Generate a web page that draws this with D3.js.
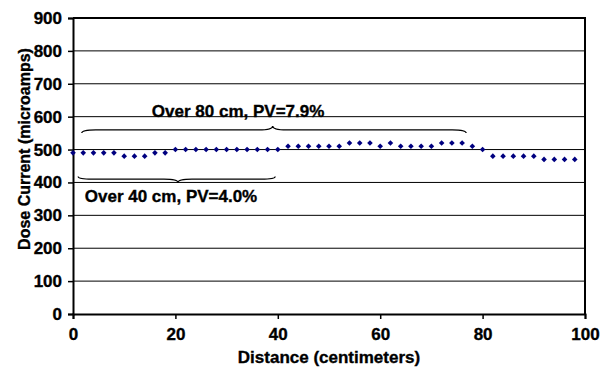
<!DOCTYPE html>
<html>
<head>
<meta charset="utf-8">
<script src="https://cdn.jsdelivr.net/npm/d3@7"></script>
<style>
  body { margin: 0; background: #fff; }
  text { font-family: "Liberation Sans", Arial, sans-serif; font-weight: bold; fill: #000; stroke: #000; stroke-width: 0.35px; }
</style>
</head>
<body>
<div id="dose-chart-container"></div>
<script>
/* chart values */
var distance = [0, 2, 4, 6, 8, 10, 12, 14, 16, 18,
                20, 22, 24, 26, 28, 30, 32, 34, 36, 38,
                40, 42, 44, 46, 48, 50, 52, 54, 56, 58,
                60, 62, 64, 66, 68, 70, 72, 74, 76, 78,
                80, 82, 84, 86, 88, 90, 92, 94, 96, 98]

var doseCurrent = [490, 490, 490, 490, 490, 480, 480, 480, 490, 490,
                   500, 500, 500, 500, 500, 500, 500, 500, 500, 500,
                   500, 510, 510, 510, 510, 510, 510, 520, 520, 520,
                   510, 520, 510, 510, 510, 510, 520, 520, 520, 510,
                   500, 480, 480, 480, 480, 480, 470, 470, 470, 470]

var xTicks = [0, 20, 40, 60, 80, 100]
var yTicks = [0, 100, 200, 300, 400, 500, 600, 700, 800, 900]

/* brace annotations, in chart units: from, to, tip, flat level, tip level, end level */
var braceLabels = ["Over 80 cm, PV=7.9%", "Over 40 cm, PV=4.0%"]
var braceFrom = [1.7, 1]
var braceTo = [76.8, 39.5]
var braceTip = [39, 20.5]
var braceFlat = [560, 410]
var bracePeak = [572, 400]
var braceEnd = [550, 418]
var labelX = [15.4, 2.3]
var labelY = [600, 340]

/* layout */
var layout = {
  width: 608,
  height: 371,
  left: 73,
  right: 585,
  top: 18,
  bottom: 314
}

var x = d3.scaleLinear().domain([0, 100]).range([layout.left, layout.right])
var y = d3.scaleLinear().domain([0, 900]).range([layout.bottom, layout.top])

var svg = d3.select("#dose-chart-container")
  .append("svg")
  .attr("width", layout.width)
  .attr("height", layout.height)

/* horizontal grid lines */
svg.append("g")
  .attr("class", "grid")
  .selectAll("line")
  .data(yTicks.slice(1))
  .enter()
  .append("line")
  .attr("x1", layout.left)
  .attr("x2", layout.right)
  .attr("y1", function(d) { return y(d) })
  .attr("y2", function(d) { return y(d) })
  .style("stroke", "#000")
  .style("stroke-width", 1)

/* plot frame (top and right) */
svg.append("path")
  .attr("d", "M" + layout.left + "," + layout.top + "H" + layout.right + "V" + layout.bottom)
  .attr("fill", "none")
  .style("stroke", "#000")
  .style("stroke-width", 2)

/* axes */
var yAxis = svg.append("g")
  .attr("transform", "translate(" + layout.left + ",0)")
  .call(d3.axisLeft(y).tickValues(yTicks).tickSize(5).tickPadding(6))

var xAxis = svg.append("g")
  .attr("transform", "translate(0," + layout.bottom + ")")
  .call(d3.axisBottom(x).tickValues(xTicks).tickSize(5).tickPadding(9))

svg.selectAll(".domain").style("stroke", "#000").style("stroke-width", 2)
svg.selectAll(".tick line").style("stroke", "#000").style("stroke-width", 1.5)
svg.selectAll(".tick text")
  .attr("font-family", null)
  .attr("font-size", null)
  .style("font-size", "17px")

/* data points */
svg.append("g")
  .attr("class", "points")
  .selectAll("path")
  .data(doseCurrent)
  .enter()
  .append("path")
  .attr("d", d3.symbol().type(d3.symbolDiamond2).size(20))
  .attr("transform", function(d, i) { return "translate(" + x(distance[i]) + "," + y(d) + ")" })
  .attr("fill", "#000080")

/* curly braces */
function bracePath(i) {
  var x0 = x(braceFrom[i]), x1 = x(braceTo[i]), xt = x(braceTip[i])
  var yf = y(braceFlat[i]), yp = y(bracePeak[i]), ye = y(braceEnd[i])
  var w = 14
  return "M" + x0 + "," + ye
    + "Q" + x0 + "," + yf + " " + (x0 + w) + "," + yf
    + "L" + (xt - w) + "," + yf
    + "Q" + xt + "," + yf + " " + xt + "," + yp
    + "Q" + xt + "," + yf + " " + (xt + w) + "," + yf
    + "L" + (x1 - w) + "," + yf
    + "Q" + x1 + "," + yf + " " + x1 + "," + ye
}

svg.append("g")
  .attr("class", "braces")
  .selectAll("path")
  .data(braceLabels)
  .enter()
  .append("path")
  .attr("d", function(d, i) { return bracePath(i) })
  .attr("fill", "none")
  .style("stroke", "#000")
  .style("stroke-width", 1.2)

svg.append("g")
  .attr("class", "brace-labels")
  .selectAll("text")
  .data(braceLabels)
  .enter()
  .append("text")
  .attr("x", function(d, i) { return x(labelX[i]) })
  .attr("y", function(d, i) { return y(labelY[i]) })
  .style("font-size", "17px")
  .text(function(d) { return d })

/* axis titles */
svg.append("text")
  .attr("x", (layout.left + layout.right) / 2)
  .attr("y", 363)
  .attr("text-anchor", "middle")
  .style("font-size", "17px")
  .text("Distance (centimeters)")

svg.append("text")
  .attr("transform", "translate(30,149) rotate(-90)")
  .attr("text-anchor", "middle")
  .style("font-size", "16px")
  .text("Dose Current (microamps)")
</script>
</body>
</html>
